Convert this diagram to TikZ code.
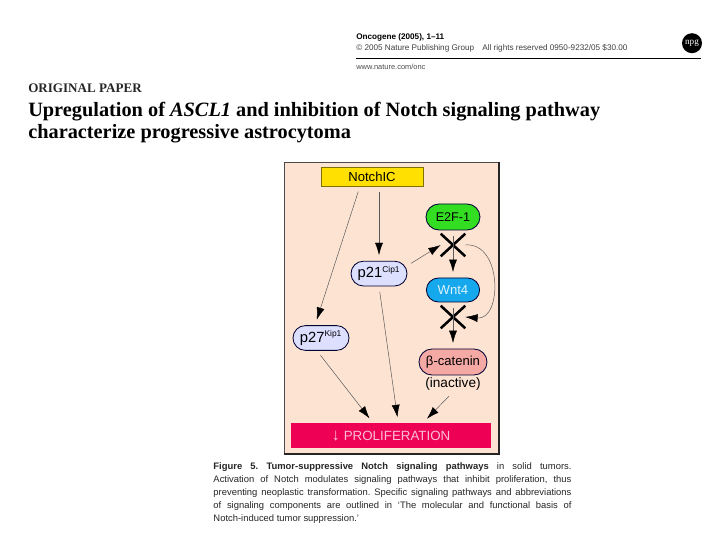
\documentclass[tikz,border=0pt]{standalone}
\usepackage{fontspec}
\setmainfont{Liberation Serif}
\newfontfamily\arialfont{Liberation Sans}
\usetikzlibrary{positioning, arrows.meta, shapes.misc}
\definecolor{panelpeach}{HTML}{FDE3D2}
\definecolor{notchyellow}{HTML}{FFE000}
\definecolor{e2fgreen}{HTML}{33DD22}
\definecolor{wntblue}{HTML}{15A8EC}
\definecolor{betapink}{HTML}{F5A9A5}
\definecolor{cipblue}{HTML}{DDDFFF}
\definecolor{prolifred}{HTML}{EE0055}
\tikzset{
  pill/.style={rounded rectangle,draw=black!80!blue,semithick,inner sep=0pt,font=\arialfont\fontsize{10.5}{12}\selectfont},
  link/.style={draw=black!65,line width=0.35pt,shorten <=4pt,shorten >=4pt,-{Latex[length=0.31cm,width=0.2cm,black]}},
  block/.style={cross out,draw=black,line width=1.8pt,minimum width=0.55cm,minimum height=0.5cm,inner sep=0pt},
}
\begin{document}
\begin{tikzpicture}
  \useasboundingbox (0, 0) rectangle (18, 13.5);
  \fill[white] (0, 0) rectangle (18, 13.5);
  % page header
  \node (journal) [anchor=west,inner sep=0pt,font=\arialfont\bfseries\fontsize{5.8}{6}\selectfont] at (8.9, 12.57) {Oncogene (2005), 1–11};
  \node (rights) [anchor=west,inner sep=0pt,font=\arialfont\fontsize{5.8}{6}\selectfont,text=black!75] at (8.9, 12.3) {© 2005 Nature Publishing Group\quad All rights reserved 0950-9232/05 \$30.00};
  \draw[semithick] (8.9, 12.05) -- (17.52, 12.05);
  \node (web) [anchor=west,inner sep=0pt,font=\arialfont\fontsize{5.3}{6}\selectfont,text=black!70] at (8.9, 11.82) {www.nature.com/onc};
  \node (npg) [circle,fill=black,text=white,inner sep=0pt,minimum size=0.5cm,font=\fontsize{6.5}{7}\selectfont] at (17.3, 12.42) {npg};
  \node (kind) [anchor=west,inner sep=0pt,font=\bfseries\fontsize{9.3}{10}\selectfont,text=black!85] at (0.7, 11.3) {ORIGINAL PAPER};
  \node (title) [anchor=north west,inner sep=0pt,align=left,font=\bfseries\fontsize{14.45}{15.7}\selectfont] at (0.7, 10.96) {Upregulation of \textit{ASCL1} and inhibition of Notch signaling pathway\\characterize progressive astrocytoma};
  % figure
  \node (panel) [draw=black!70,fill=panelpeach,minimum width=5.375cm,minimum height=7.3cm,inner sep=0pt] at (9.7875, 5.8) {};
  \draw[line width=1.2pt,black!85] (panel.north east) -- (panel.south east) -- (panel.south west);
  \node (notch) [fill=notchyellow,draw=black!50!notchyellow,minimum width=2.55cm,minimum height=0.475cm,inner sep=0pt,font=\arialfont\fontsize{9.3}{10}\selectfont] at (9.3, 9.09) {NotchIC};
  \begin{scope}[every node/.style={pill}]
    \node (e2f) [fill=e2fgreen,minimum width=1.35cm,minimum height=0.65cm,font=\arialfont\fontsize{9}{10}\selectfont] at (11.325, 8.075) {E2F-1};
    \node (wnt) [fill=wntblue,text=white!85!wntblue,minimum width=1.33cm,minimum height=0.6cm,font=\arialfont\fontsize{9.3}{10}\selectfont] at (11.325, 6.25) {Wnt4};
    \node (beta) [fill=betapink,minimum width=1.7cm,minimum height=0.65cm,font=\arialfont\fontsize{9.3}{10}\selectfont] at (11.325, 4.45) {β-catenin};
    \node (p21) [fill=cipblue,minimum width=1.4cm,minimum height=0.62cm] at (9.475, 6.66) {p21\textsuperscript{\fontsize{6}{7}\selectfont Cip1}};
    \node (p27) [fill=cipblue,minimum width=1.4cm,minimum height=0.62cm] at (8.025, 5.05) {p27\textsuperscript{\fontsize{6}{7}\selectfont Kip1}};
  \end{scope}
  \node (inactive) [inner sep=1pt,font=\arialfont\fontsize{9.7}{10}\selectfont] at (11.325, 3.9) {(inactive)};
  \node (prolif) [fill=prolifred,text=white!75!prolifred,minimum width=5cm,minimum height=0.625cm,inner sep=0pt,font=\arialfont\fontsize{9.5}{10}\selectfont] at (9.775, 2.61) {{\bfseries\fontsize{12}{12}\selectfont ↓}\ PROLIFERATION};
  \node (x1) [block] at (11.325, 7.375) {};
  \node (x2) [block] at (11.325, 5.575) {};
  \path[link] (notch.south -| p21.north) -- (p21.north);
  \path[link] ([xshift=-0.3cm]notch.south) -- ([xshift=-0.15cm]p27.north);
  \path[link] (p21.south) -- ([xshift=0.18cm]prolif.north);
  \path[link] ([xshift=-0.1cm]p27.south) -- ([xshift=-0.45cm]prolif.north);
  \path[link] (inactive.south) -- ([xshift=0.8cm]prolif.north);
  \path[link,shorten <=3pt,shorten >=0pt] ([yshift=0.2cm]p21.east) -- (x1.west);
  \path[link] (e2f.south) -- (wnt.north);
  \path[link] (wnt.south) -- (beta.north);
  \path[link,shorten <=0pt,shorten >=0pt] (x1.east) to [out=5,in=-5,looseness=1.33] (x2.east);
  % caption
  \node (caption) [anchor=north west,inner sep=0pt,text width=8.95cm,align=justify,font=\arialfont\frenchspacing\fontsize{6.7}{9.25}\selectfont,text=black!85] at (5.33, 1.93) {\textbf{Figure 5. Tumor-suppressive Notch signaling pathways} in solid tumors.\linebreak Activation of Notch modulates signaling pathways that inhibit proliferation, thus\linebreak preventing neoplastic transformation. Specific signaling pathways and abbreviations\linebreak of signaling components are outlined in ‘The molecular and functional basis of\linebreak Notch-induced tumor suppression.’};
\end{tikzpicture}
\end{document}
